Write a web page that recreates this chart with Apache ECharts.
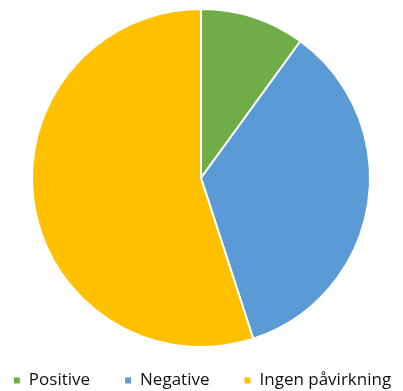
<!DOCTYPE html>
<html>
<head>
<meta charset="utf-8">
<script src="https://cdn.jsdelivr.net/npm/echarts@6/dist/echarts.min.js"></script>
<style>
  html, body { margin: 0; padding: 0; background: #fff; }
  #chart { width: 403px; height: 391px; }
</style>
</head>
<body>
<div id="chart"></div>
<script>
const categories = ['Positive', 'Negative', 'Ingen påvirkning']
const values = [10, 35, 55]
const colors = ['#70AD47', '#5B9BD5', '#FFC000']

const chart = echarts.init(document.getElementById('chart'))

chart.setOption({
  animation: false,
  color: colors,
  legend: {
    bottom: -3,
    left: 'center',
    icon: 'rect',
    itemWidth: 8,
    itemHeight: 8,
    itemGap: 33,
    textStyle: { fontFamily: 'Open Sans', fontSize: 17, color: '#111', padding: [0, 0, 0, 3] },
    data: categories
  },
  series: [{
    type: 'pie',
    center: [201, 178],
    radius: 169,
    startAngle: 90,
    clockwise: true,
    label: { show: false },
    labelLine: { show: false },
    emphasis: { disabled: true },
    itemStyle: { borderColor: '#fff', borderWidth: 2 },
    data: categories.map((name, i) => ({ name, value: values[i] }))
  }]
})
</script>
</body>
</html>
